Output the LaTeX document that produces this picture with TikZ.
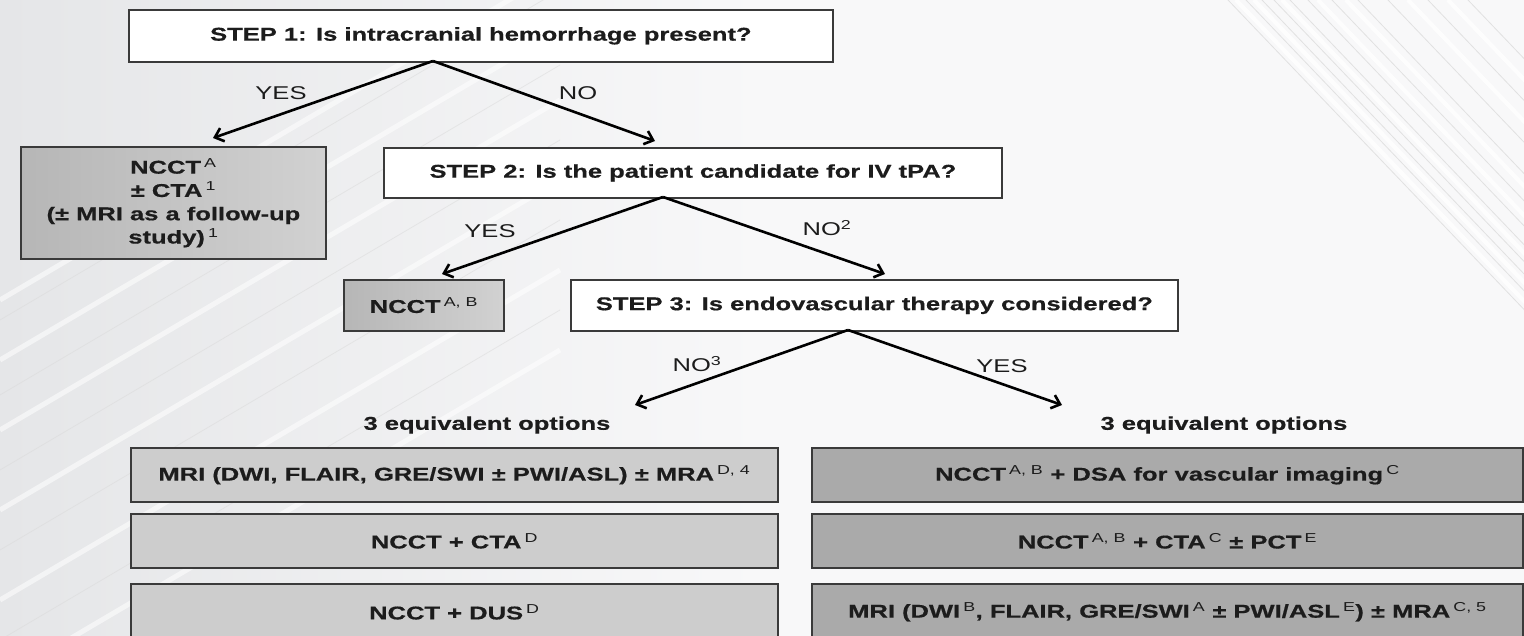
\documentclass[tikz,border=0pt]{standalone}
\usepackage{fontspec}
\setmainfont{Liberation Sans}[FakeStretch=1.38, BoldFeatures={FakeBold=0.6}]
\usetikzlibrary{arrows.meta}
\definecolor{ink}{HTML}{1C1C1C}
\definecolor{edge}{HTML}{3A3A3A}
\definecolor{lightfill}{HTML}{CDCDCD}
\definecolor{darkfill}{HTML}{AAAAAA}
\definecolor{midfill}{HTML}{C6C6C6}
\definecolor{paperL}{HTML}{E5E6E8}
\definecolor{paperR}{HTML}{F8F8F9}
\newcommand\sps[1]{\,\textsuperscript{\mdseries #1}}

\begin{document}
\begin{tikzpicture}[x=1pt,y=-1pt,
  txt/.style={font=\fontsize{18.5}{23.3}\selectfont\bfseries, text=ink},
  lab/.style={font=\fontsize{18.5}{22}\selectfont, text=ink},
  box/.style={txt, draw=edge, line width=1.8pt, inner sep=0pt, align=center, anchor=north west},
  question/.style={box, fill=white},
  answer/.style={box, left color=midfill!92!black, right color=midfill!80!white},
  optL/.style={box, fill=lightfill, minimum width=647},
  optR/.style={box, fill=darkfill, minimum width=711},
  arr/.style={draw=black, line width=2.6pt, -{Straight Barb[length=8pt,width=14pt,line width=2.6pt]}}
]
\useasboundingbox (0,0) rectangle (1524,636);
\clip (0,0) rectangle (1524,636);

% paper with faint diagonal streaks
\shade[left color=paperL, right color=paperR, middle color=paperR] (0,0) rectangle (1524,636);
\foreach \d in {0,60,130,210,300,380}
  \draw[white, line width=5pt, opacity=.55] (0,300+\d) -- ++(560,-330);
\foreach \d in {20,95,170,250,340}
  \draw[gray!30, line width=.8pt, opacity=.5] (0,300+\d) -- ++(560,-330);
\foreach \d in {0,18,34,46,62,80,104,130,160,200,240}
  \draw[gray!35, line width=.8pt, opacity=.6] (1228+\d,0) -- ++(330,345);
\foreach \d in {8,26,54,90,118,180,220}
  \draw[white, line width=4pt, opacity=.8] (1228+\d,0) -- ++(330,345);

% question boxes
\node[question, minimum width=704, minimum height=52] (s1) at (128,9)
  {STEP 1: Is intracranial hemorrhage present?};
\node[question, minimum width=618, minimum height=50] (s2) at (383,147)
  {STEP 2: Is the patient candidate for IV tPA?};
\node[question, minimum width=607, minimum height=51] (s3) at (570,279)
  {STEP 3: Is endovascular therapy considered?};

% direct answers
\node[answer, minimum width=305, minimum height=112] (ich) at (20,146)
  {NCCT\sps{A}\\ ± CTA\sps{1}\\ (± MRI as a follow-up\\ study)\sps{1}};
\node[answer, minimum width=160, minimum height=51] (tpa) at (343,279)
  {NCCT\sps{A, B}};

% option headings
\node[txt, anchor=west] (hL) at (360,425) {3 equivalent options};
\node[txt, anchor=west] (hR) at (1097,425) {3 equivalent options};

% options without endovascular therapy
\node[optL, minimum height=54] (L1) at (130,447)
  {MRI (DWI, FLAIR, GRE/SWI ± PWI/ASL) ± MRA\sps{D, 4}};
\node[optL, minimum height=54] (L2) at (130,513) {NCCT + CTA\sps{D}};
\node[optL, minimum height=56] (L3) at (130,583) {NCCT + DUS\sps{D}};

% options with endovascular therapy
\node[optR, minimum height=54] (R1) at (811,447)
  {NCCT\sps{A, B} + DSA for vascular imaging\sps{C}};
\node[optR, minimum height=54] (R2) at (811,513)
  {NCCT\sps{A, B} + CTA\sps{C} ± PCT\sps{E}};
\node[optR, minimum height=56] (R3) at (811,583)
  {MRI (DWI\sps{B}, FLAIR, GRE/SWI\sps{A} ± PWI/ASL\sps{E}) ± MRA\sps{C, 5}};

% branch points and arrow tips
\coordinate (o1) at (433,61);
\coordinate (t1y) at (213,138);
\coordinate (t1n) at (655,141);
\coordinate (o2) at (663,197);
\coordinate (t2y) at (442,274);
\coordinate (t2n) at (885,274);
\coordinate (o3) at (848,330);
\coordinate (t3n) at (635,405);
\coordinate (t3y) at (1062,405);

\draw[arr] (o1) -- (t1y);
\draw[arr] (o1) -- (t1n);
\draw[arr] (o2) -- (t2y);
\draw[arr] (o2) -- (t2n);
\draw[arr] (o3) -- (t3n);
\draw[arr] (o3) -- (t3y);

% branch labels
\node[lab] (y1) at (281,93) {YES};
\node[lab] (n1) at (578,93) {NO};
\node[lab] (y2) at (490,231) {YES};
\node[lab] (n2) at (827,228) {NO\textsuperscript{2}};
\node[lab] (n3) at (697,364) {NO\textsuperscript{3}};
\node[lab] (y3) at (1002,366) {YES};
\end{tikzpicture}
\end{document}
